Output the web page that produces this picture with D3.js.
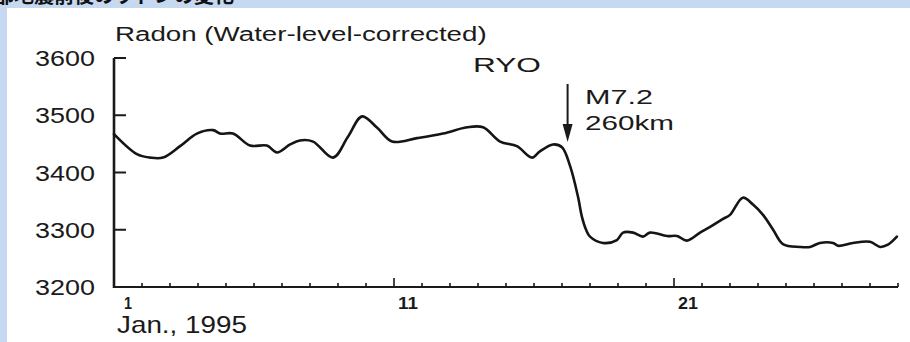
<!DOCTYPE html>
<html><head><meta charset="utf-8">
<script src="https://cdn.jsdelivr.net/npm/d3@7"></script>
<style>html,body{margin:0;padding:0;background:#c6d9f1;} svg{display:block}</style>
</head><body><svg id="c" width="910" height="342"></svg>
<script>
// ---- data ----
const title = "部地震前後のラドンの変化";
const yLabel = "Radon (Water-level-corrected)";
const station = "RYO";
const eventLines = ["M7.2", "260km"];
const eventDay = 17.2;
const xCaption = "Jan., 1995";
const yTickValues = [3200, 3300, 3400, 3500, 3600];
const xTickDays = [1,2,3,4,5,6,7,8,9,10,11,12,13,14,15,16,17,18,19,20,21,22,23,24,25,26,27,28,29];
const xMajorDays = [11, 21];
const xLabelDays = [1, 11, 21];
const days = [1.00,1.82,2.29,2.75,3.36,3.96,4.54,4.79,5.25,5.86,6.46,6.82,7.29,7.64,8.11,8.82,9.35,9.86,10.4,10.93,11.82,12.75,13.61,14.18,14.79,15.39,15.93,16.21,16.68,17.00,17.29,17.57,17.71,17.86,18.00,18.46,18.96,19.18,19.54,19.89,20.14,20.75,21.11,21.46,21.93,22.29,22.75,23.00,23.46,23.82,24.18,24.54,24.89,25.50,25.86,26.21,26.68,26.86,27.39,28.00,28.36,28.64,28.96];
const radon = [3467,3432,3426,3426,3446,3468,3474,3468,3468,3447,3447,3435,3449,3456,3454,3426,3462,3498,3478,3454,3460,3468,3479,3479,3454,3446,3426,3437,3449,3444,3411,3358,3323,3300,3288,3277,3282,3295,3295,3288,3295,3289,3289,3281,3295,3305,3319,3326,3356,3344,3326,3300,3275,3270,3270,3277,3277,3272,3277,3279,3270,3274,3288];

// ---- layout ----
const svg = d3.select("#c");
const FONT = "'Liberation Sans', Arial, Helvetica, sans-serif";
const x = d3.scaleLinear().domain([1, 29]).range([114, 898]);
const y = d3.scaleLinear().domain([3200, 3600]).range([287, 58]);

function fitText(sel, width, anchor) {
  sel.each(function () {
    const t = d3.select(this);
    const w = this.getComputedTextLength();
    const sx = width / w;
    const tx = +t.attr("data-x"), ty = +t.attr("data-y");
    let x0 = tx;
    if (anchor === "end") x0 = tx - width;
    if (anchor === "middle") x0 = tx - width / 2;
    t.attr("x", 0).attr("y", 0).attr("text-anchor", "start")
     .attr("transform", `translate(${x0},${ty}) scale(${sx},1)`);
  });
}
function addText(str, xx, yy, size, width, anchor, weight) {
  const t = svg.append("text").text(str)
    .attr("data-x", xx).attr("data-y", yy)
    .attr("font-family", FONT).attr("font-size", size)
    .attr("font-weight", weight || "normal").attr("fill", "#1a1a1a");
  fitText(t, width, anchor || "start");
  return t;
}

// title (cut off on the blue band, as in the reference)
svg.append("text").text(title).attr("x", -6).attr("y", 3)
  .attr("font-family", "'Noto Sans CJK JP', sans-serif").attr("font-weight", "bold")
  .attr("font-size", 20).attr("fill", "#111");

// white panel
svg.append("rect").attr("x", 7).attr("y", 8).attr("width", 903).attr("height", 334).attr("fill", "#ffffff");

// axes
const ax = svg.append("g").attr("stroke", "#1a1a1a").attr("fill", "none");
ax.append("line").attr("x1", x(1)).attr("x2", x(1)).attr("y1", y(3600)).attr("y2", y(3200) + 1).attr("stroke-width", 2.6);
ax.append("line").attr("x1", x(1) - 1).attr("x2", x(29)).attr("y1", y(3200)).attr("y2", y(3200)).attr("stroke-width", 2.2);
ax.selectAll(".yt").data(yTickValues.filter(v => v > 3200)).enter().append("line")
  .attr("x1", x(1)).attr("x2", x(1) + 12).attr("y1", d => y(d)).attr("y2", d => y(d)).attr("stroke-width", 2);
ax.selectAll(".xt").data(xTickDays.filter(d => d > 1)).enter().append("line")
  .attr("x1", d => x(d)).attr("x2", d => x(d)).attr("y1", y(3200))
  .attr("y2", d => y(3200) - (xMajorDays.includes(d) ? 9 : 4)).attr("stroke-width", 1.6);

// y tick labels
yTickValues.forEach(v => addText(String(v), 95, y(v) + 8, 22, 60, "end"));
// x tick labels (centred on the day)
xLabelDays.forEach(d => {
  const w = d < 10 ? 8 : 20;
  addText(String(d), x(d + 0.5), 309, 17, w, "middle", "bold");
});
addText(xCaption, 117, 333, 23, 130, "start");
addText(yLabel, 115, 41, 21, 372, "start");
addText(station, 473, 72, 21, 68, "start");
addText(eventLines[0], 585, 104, 21, 68, "start");
addText(eventLines[1], 585, 130, 21, 89, "start");

// event arrow
const xa = x(eventDay);
svg.append("line").attr("x1", xa).attr("x2", xa).attr("y1", 84).attr("y2", 128)
  .attr("stroke", "#1a1a1a").attr("stroke-width", 2);
svg.append("path").attr("d", `M${xa - 5},124 L${xa + 5},124 L${xa},142 Z`).attr("fill", "#1a1a1a");

// radon curve
const line = d3.line().x((d, i) => x(days[i])).y(d => y(d)).curve(d3.curveCatmullRom.alpha(0.5));
svg.append("path").datum(radon).attr("d", line)
  .attr("fill", "none").attr("stroke", "#151515").attr("stroke-width", 2.6)
  .attr("stroke-linejoin", "round").attr("stroke-linecap", "round");
</script></body></html>
